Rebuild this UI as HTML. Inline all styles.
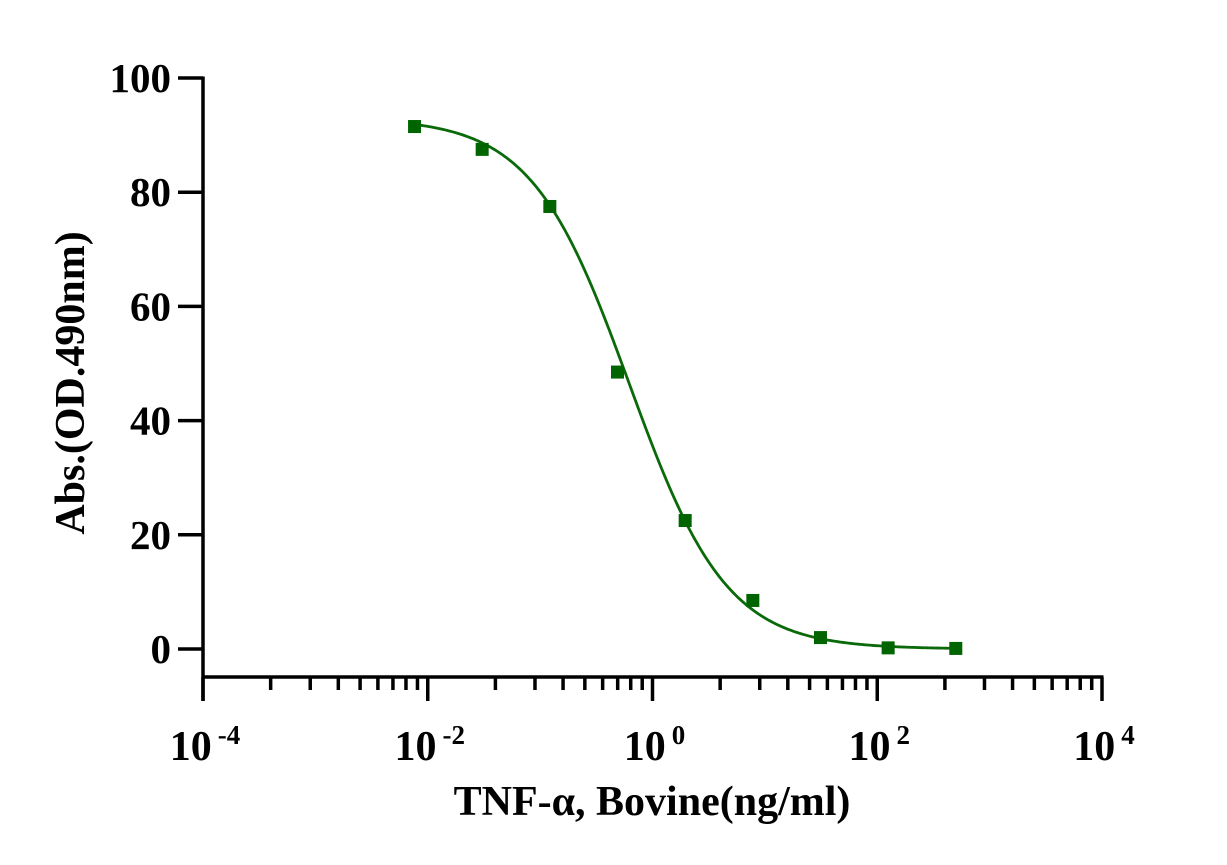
<!DOCTYPE html>
<html><head><meta charset="utf-8"><style>
html,body{margin:0;padding:0;background:#fff;}
svg{display:block;font-family:"Liberation Serif",serif;font-weight:bold;}
</style></head><body>
<svg id="chart" width="1227" height="865" viewBox="0 0 1227 865" xmlns="http://www.w3.org/2000/svg"></svg>
<script>
const concentrations = [0.00763, 0.0305, 0.122, 0.488, 1.953, 7.8125, 31.25, 125, 500];
const absorbance = [91.5, 87.5, 77.5, 48.5, 22.5, 8.5, 2, 0.2, 0.1];
const yTicks = [0, 20, 40, 60, 80, 100];
const xTickExponents = [-4, -2, 0, 2, 4];
const fitTop = 93, fitBottom = 0, fitEC50 = 0.62, fitHill = 1.0;

const svg = document.getElementById('chart');
const NS = 'http://www.w3.org/2000/svg';
const X0 = 203, X1 = 1102, Y0 = 649, Y100 = 78, AXY = 677;
const xLog = v => X0 + (Math.log10(v) + 4) / 8 * (X1 - X0);
const yS = v => Y0 - v / 100 * (Y0 - Y100);
function mk(tag, attrs, parent) {
  const e = document.createElementNS(NS, tag);
  for (const k in attrs) e.setAttribute(k, attrs[k]);
  (parent || svg).appendChild(e);
  return e;
}
const ya = mk('line', {x1: X0, y1: Y100 - 1.5, x2: X0, y2: 701, stroke: '#000', 'stroke-width': 3.5});


const xa = mk('line', {x1: X0 - 1.5, y1: AXY, x2: X1 + 1.5, y2: AXY, stroke: '#000', 'stroke-width': 3.5});


yTicks.forEach(t => {
  const y = yS(t);
  const l = mk('line', {x1: 178, y1: y, x2: X0, y2: y, stroke: '#000', 'stroke-width': 3.5});
  
  
  const tx = mk('text', {x: 171, y: y + 14, 'text-anchor': 'end', 'font-size': 41});
  tx.textContent = t;
  
  
});
xTickExponents.forEach((e, i) => {
  const x = xLog(Math.pow(10, e));
  const l = mk('line', {x1: x, y1: AXY, x2: x, y2: 701, stroke: '#000', 'stroke-width': 3.5});
  
  
  if (i < xTickExponents.length - 1) {
    const span = xLog(Math.pow(10, xTickExponents[i + 1])) - x;
    for (let k = 2; k <= 9; k++) {
      const mx = x + span * Math.log10(k);
      const m = mk('line', {x1: mx, y1: AXY, x2: mx, y2: 690, stroke: '#000', 'stroke-width': 3.5});
      
      
    }
  }
  const tx = mk('text', {x: x + 2, y: 760, 'text-anchor': 'middle', 'font-size': 42});
  
  
  tx.appendChild(document.createTextNode('10'));
  const sup = mk('tspan', {dx: 6, dy: -16, 'font-size': 27}, tx);
  sup.textContent = e === 0 ? '0' : String(e);
});
let d = '';
const lmin = Math.log10(concentrations[0]), lmax = Math.log10(concentrations[concentrations.length - 1]);
for (let i = 0; i <= 300; i++) {
  const lv = lmin + (lmax - lmin) * i / 300;
  const c = Math.pow(10, lv);
  const v = fitBottom + (fitTop - fitBottom) / (1 + Math.pow(c / fitEC50, fitHill));
  d += (i ? 'L' : 'M') + xLog(c).toFixed(2) + ',' + yS(v).toFixed(2);
}
const curve = mk('path', {d: d, fill: 'none', stroke: '#0a6a0a', 'stroke-width': 2.8});


concentrations.forEach((c, i) => {
  const r = mk('rect', {x: xLog(c) - 6.5, y: yS(absorbance[i]) - 6.5, width: 13, height: 13, fill: '#006400'});
  
  
});
const xt = mk('text', {x: 652, y: 815, 'text-anchor': 'middle', 'font-size': 42});
xt.textContent = 'TNF-α, Bovine(ng/ml)';


const yt = mk('text', {x: 0, y: 0, 'text-anchor': 'middle', 'font-size': 42, transform: 'translate(84,383) rotate(-90)'});
yt.textContent = 'Abs.(OD.490nm)';


</script>
</body></html>
